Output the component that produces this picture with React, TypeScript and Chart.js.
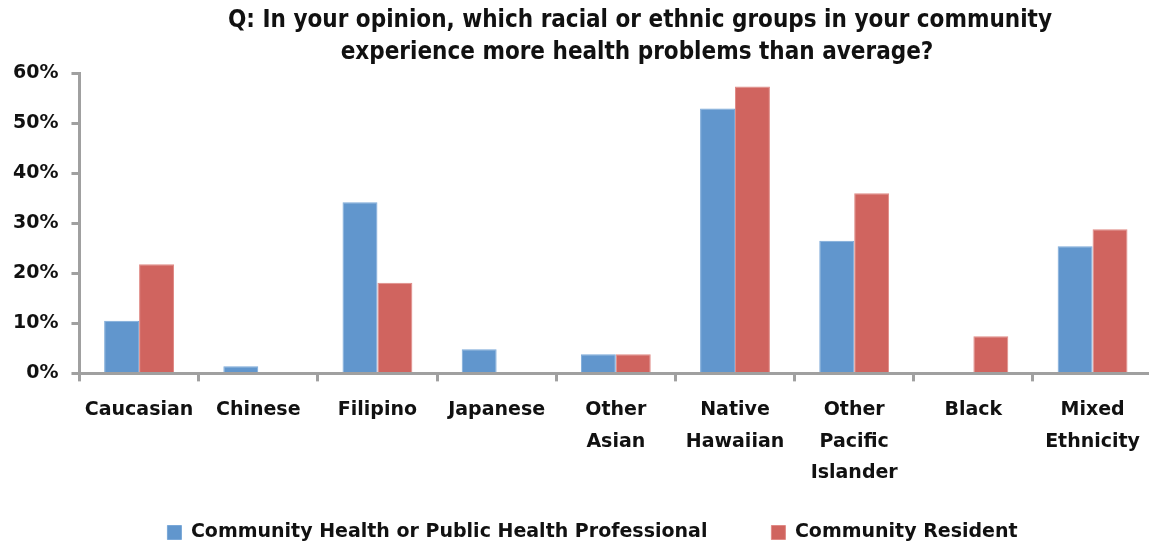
import React, { useEffect, useRef } from "react";
import { Chart, registerables } from "chart.js";

Chart.register(...registerables);

const categories: (string | string[])[] = [
  "Caucasian",
  "Chinese",
  "Filipino",
  "Japanese",
  ["Other", "Asian"],
  ["Native", "Hawaiian"],
  ["Other", "Pacific", "Islander"],
  "Black",
  ["Mixed", "Ethnicity"],
];

const professionalValues = [10.5, 1.4, 34.2, 4.8, 3.8, 52.9, 26.5, 0, 25.4];
const residentValues = [21.8, 0, 18.1, 0, 3.8, 57.3, 36.0, 7.4, 28.8];

const seriesNames = [
  "Community Health or Public Health Professional",
  "Community Resident",
];

const titleLines = [
  "Q: In your opinion, which racial or ethnic groups in your community",
  "experience more health problems than average?",
];

const yTicks = [0, 10, 20, 30, 40, 50, 60];

const AXIS_FONT = "'DejaVu Sans', sans-serif";
const TITLE_FONT = "'Liberation Sans Narrow', 'DejaVu Sans Condensed', 'Liberation Sans', sans-serif";

const LEGEND_GAP = 64;
const LEGEND_RESERVED = 46;
const LEGEND_CENTER_Y = 534;
const LEGEND_SHIFT_X = 16;

export default function App() {
  const ref = useRef<HTMLCanvasElement | null>(null);

  useEffect(() => {
    if (!ref.current) return;
    const titlePlugin = {
      id: "customTitle",
      afterDraw(chart: any) {
        const ctx = chart.ctx;
        ctx.save();
        ctx.fillStyle = "#111";
        ctx.font = `bold 24px ${TITLE_FONT}`;
        ctx.textAlign = "center";
        ctx.textBaseline = "middle";
        ctx.fillText(titleLines[0], 640, 21);
        ctx.fillText(titleLines[1], 637, 53);
        ctx.restore();
      },
    };
    const legendPlacer = {
      id: "legendPlacer",
      afterInit(chart: any) {
        const lg = chart.legend;
        if (!lg || lg.__patched) return;
        const orig = lg.fit.bind(lg);
        lg.fit = function () {
          orig();
          lg.height = LEGEND_RESERVED;
        };
        lg.__patched = true;
      },
      afterLayout(chart: any) {
        const lg = chart.legend;
        if (!lg) return;
        const itemH = lg._itemHeight || 22;
        lg.top = LEGEND_CENTER_Y - LEGEND_GAP - itemH / 2;
        lg.left += LEGEND_SHIFT_X;
        lg.right += LEGEND_SHIFT_X;
      },
    };
    const chart = new Chart(ref.current, {
      type: "bar",
      data: {
        labels: categories,
        datasets: [
          {
            label: seriesNames[0],
            data: professionalValues,
            backgroundColor: "#6196cd",
            borderColor: "#7aa8d8",
            borderWidth: 1,
            categoryPercentage: 0.586,
            barPercentage: 1,
          },
          {
            label: seriesNames[1],
            data: residentValues,
            backgroundColor: "#d0645f",
            borderColor: "#e08a86",
            borderWidth: 1,
            categoryPercentage: 0.586,
            barPercentage: 1,
          },
        ],
      },
      options: {
        responsive: false,
        animation: false,
        layout: { padding: { top: 73, left: 0, right: 0, bottom: 0 } },
        plugins: {
          title: { display: false },
          tooltip: { enabled: false },
          legend: {
            position: "bottom",
            labels: {
              boxWidth: 14,
              boxHeight: 14,
              padding: LEGEND_GAP,
              color: "#111",
              font: { family: AXIS_FONT, size: 19, weight: "bold" },
            },
          },
        },
        scales: {
          x: {
            grid: {
              display: true,
              drawOnChartArea: false,
              offset: true,
              color: "#a0a0a0",
              lineWidth: 3,
              tickLength: 8,
            },
            border: { display: true, color: "#a0a0a0", width: 3 },
            ticks: {
              color: "#111",
              maxRotation: 0,
              autoSkip: false,
              padding: 13,
              font: { family: AXIS_FONT, size: 19, weight: "bold", lineHeight: 1.66 },
            },
          },
          y: {
            min: 0,
            max: 60,
            afterBuildTicks(axis: any) {
              axis.ticks = yTicks.map((v) => ({ value: v }));
            },
            grid: {
              display: true,
              drawOnChartArea: false,
              color: "#a0a0a0",
              lineWidth: 3,
              tickLength: 8,
            },
            border: { display: true, color: "#a0a0a0", width: 3 },
            ticks: {
              color: "#111",
              padding: 13,
              callback: (v: any) => `${v}%`,
              font: { family: AXIS_FONT, size: 19, weight: "bold" },
            },
          },
        },
      },
      plugins: [titlePlugin, legendPlacer],
    } as any);
    return () => chart.destroy();
  }, []);

  return (
    <div
      style={{
        position: "fixed",
        left: 0,
        top: 0,
        width: 1149,
        height: 548,
        overflow: "hidden",
        background: "#fff",
      }}
    >
      <canvas ref={ref} width={1153} height={548} style={{ display: "block" }} />
    </div>
  );
}
